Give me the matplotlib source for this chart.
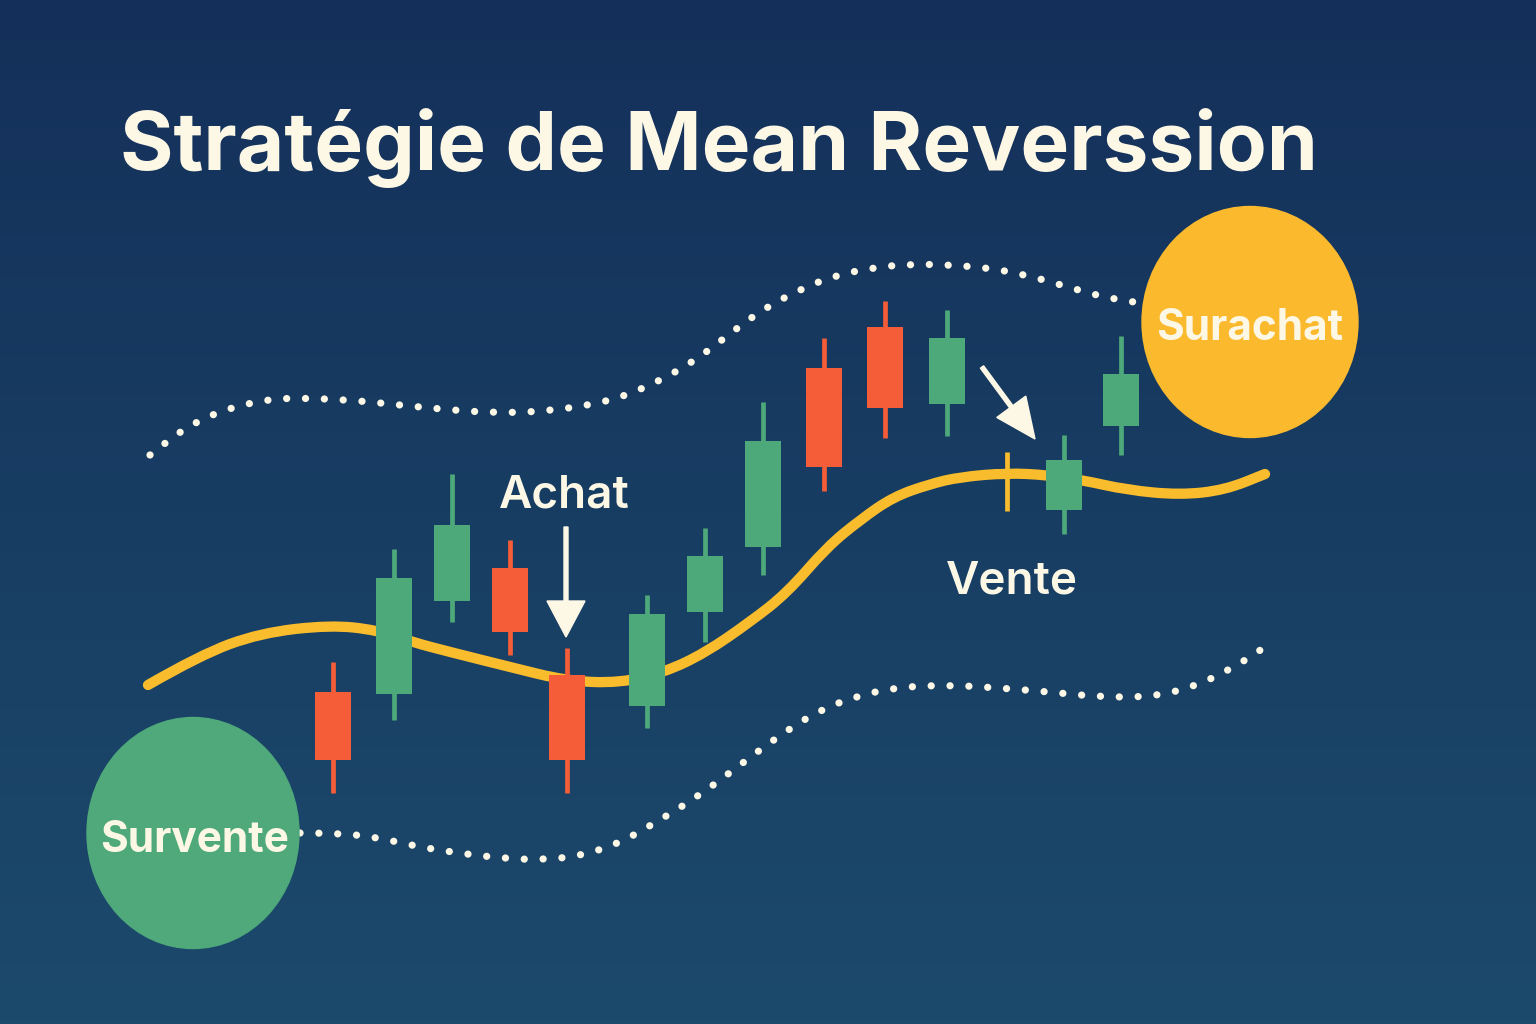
import matplotlib.pyplot as plt
import numpy as np
from matplotlib.colors import LinearSegmentedColormap
from matplotlib.patches import Ellipse, FancyArrow, PathPatch
from matplotlib.path import Path

# Colours
BG_TOP = "#14305A"
BG_BOTTOM = "#1C4A6C"
CREAM = "#FDF8E6"
GREEN = "#4EA97A"
RED = "#F45D37"
YELLOW = "#F9BC2C"

# Candles (chart units, y grows downward like the picture)
cx = [333, 394, 452, 510, 567, 647, 705, 763, 824, 885, 947, 1007, 1064, 1121]
body_top = [692, 578, 525, 568, 675, 614, 556, 441, 368, 327, 338, 478, 460, 374]
body_bot = [760, 694, 601, 632, 760, 706, 612, 547, 467, 408, 404, 478, 510, 426]
wick_top = [662, 549, 474, 540, 648, 595, 528, 402, 338, 301, 310, 452, 435, 336]
wick_bot = [793, 720, 622, 655, 793, 728, 642, 575, 491, 438, 436, 511, 534, 455]
kind = ["r", "g", "g", "r", "r", "g", "g", "g", "r", "r", "g", "y", "g", "g"]

# Mean line
mean_x = [148, 200, 260, 330, 377, 412, 450, 510, 567, 620, 665, 705, 750, 787,
          827, 860, 893, 930, 960, 1007, 1047, 1082, 1127, 1180, 1225, 1265]
mean_y = [685, 655, 633, 625, 630, 642, 652, 667, 681, 683, 672, 653, 622, 593,
          547, 520, 497, 484, 477, 473, 475, 480, 490, 495, 490, 474]

# Upper band (dotted)
up_x = [150, 175, 200, 225, 250, 275, 300, 350, 400, 450, 500, 550, 600, 630,
        667, 700, 732, 762, 795, 830, 870, 910, 950, 990, 1030, 1068, 1103, 1140]
up_y = [455, 435, 420, 410, 403, 399, 398, 400, 405, 410, 413, 411, 403, 394,
        377, 357, 332, 310, 292, 277, 268, 264, 265, 268, 276, 287, 297, 303]

# Lower band (dotted)
lo_x = [300, 336, 375, 410, 450, 500, 540, 580, 620, 660, 700, 740, 780, 820,
        860, 900, 950, 1000, 1050, 1100, 1150, 1190, 1230, 1265]
lo_y = [833, 833, 837, 845, 852, 858, 860, 856, 843, 820, 795, 765, 735, 710,
        695, 687, 685, 688, 692, 697, 697, 688, 670, 647]


def smooth_path(xs, ys):
    # quadratic bezier through midpoints, read points act as control points
    pts = list(zip(xs, ys))
    verts = [pts[0]]
    codes = [Path.MOVETO]
    for i in range(1, len(pts) - 1):
        mid = ((pts[i][0] + pts[i + 1][0]) / 2, (pts[i][1] + pts[i + 1][1]) / 2)
        verts += [pts[i], mid]
        codes += [Path.CURVE3, Path.CURVE3]
    verts.append(pts[-1])
    codes.append(Path.LINETO)
    return Path(verts, codes)


fig = plt.figure(figsize=(15.36, 10.24), dpi=100)
ax = fig.add_axes([0, 0, 1, 1])
ax.set_xlim(0, 1536)
ax.set_ylim(1024, 0)
ax.axis("off")

# Background gradient
grad = np.linspace(0, 1, 256).reshape(-1, 1)
cmap = LinearSegmentedColormap.from_list("bg", [BG_TOP, BG_BOTTOM])
ax.imshow(grad, aspect="auto", cmap=cmap, extent=[0, 1536, 1024, 0], zorder=0)

# Bands
for bx, by in [(up_x, up_y), (lo_x, lo_y)]:
    ax.add_patch(PathPatch(smooth_path(bx, by), fill=False, edgecolor=CREAM,
                           linewidth=5.2, linestyle=(0, (0.01, 2.6)),
                           capstyle="round", zorder=2))

# Mean line
ax.add_patch(PathPatch(smooth_path(mean_x, mean_y), fill=False, edgecolor=YELLOW,
                       linewidth=7.4, capstyle="round", joinstyle="round", zorder=3))

# Candles
col_map = {"r": RED, "g": GREEN, "y": YELLOW}
colors = [col_map[k] for k in kind]
ax.vlines(cx, wick_top, wick_bot, colors=colors, linewidth=3.4, zorder=4)
heights = [b - t for t, b in zip(body_top, body_bot)]
ax.bar(cx, heights, bottom=body_top, width=36, color=colors, zorder=5)

# Circles
ax.add_patch(Ellipse((1250, 322), 216, 231, color="#FBBA2E", zorder=6))
ax.add_patch(Ellipse((193, 833), 212, 231, color="#4FA97A", zorder=6))

FONT = ["Inter", "DejaVu Sans"]
ax.text(120, 170, "Stratégie de Mean Reverssion", fontsize=59, fontweight="bold",
        color=CREAM, family=FONT, ha="left", va="baseline", zorder=7)
ax.text(1250, 340, "Surachat", fontsize=30.5, fontweight="bold", color=CREAM,
        family=FONT, ha="center", va="baseline", zorder=7)
ax.text(195, 852, "Survente", fontsize=30.5, fontweight="bold", color=CREAM,
        family=FONT, ha="center", va="baseline", zorder=7)
ax.text(564, 508, "Achat", fontsize=33, fontweight="semibold", color=CREAM,
        family=FONT, ha="center", va="baseline", zorder=7)
ax.text(1012, 593, "Vente", fontsize=33, fontweight="semibold", color=CREAM,
        family=FONT, ha="center", va="baseline", zorder=7)

# Arrows
ax.add_patch(FancyArrow(566, 527, 0, 110, width=4, head_width=38, head_length=36,
                        length_includes_head=True, color=CREAM, zorder=7))
ax.add_patch(FancyArrow(982, 367, 53, 72, width=4, head_width=36, head_length=40,
                        length_includes_head=True, color=CREAM, zorder=7))

plt.savefig("out.png", dpi=100)
